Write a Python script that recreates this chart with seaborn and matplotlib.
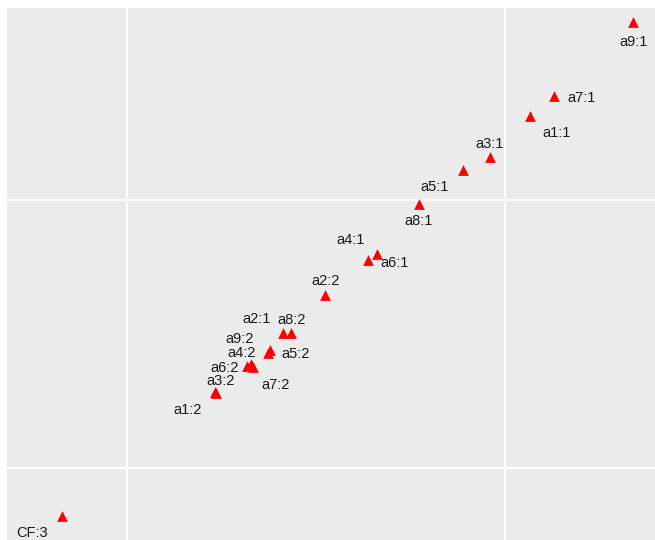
import matplotlib
matplotlib.use("Agg")
import matplotlib.pyplot as plt
import seaborn as sns
import pandas as pd

# Category coordinates on the first two dimensions
labels = ["a9:1", "a7:1", "a1:1", "a3:1", "a5:1", "a8:1", "a6:1", "a4:1",
          "a2:2", "a8:2", "a2:1", "a5:2", "a9:2", "a4:2", "a6:2", "a7:2",
          "a3:2", "a1:2", "CF:3"]
dim1 = [1.339, 1.130, 1.066, 0.960, 0.889, 0.772, 0.661, 0.638,
        0.524, 0.434, 0.413, 0.378, 0.373, 0.328, 0.317, 0.333,
        0.233, 0.235, -0.172]
dim2 = [1.664, 1.388, 1.313, 1.160, 1.112, 0.985, 0.799, 0.776,
        0.646, 0.504, 0.504, 0.440, 0.429, 0.388, 0.381, 0.377,
        0.284, 0.280, -0.179]

# Label nudges (pixels) so overlapping labels stay readable
nudges = {
    "a9:1": (0, -20), "a7:1": (27, -2), "a1:1": (27, -17), "a3:1": (0, 13),
    "a5:1": (-28, -17), "a8:1": (0, -17), "a6:1": (18, -9), "a4:1": (-18, 20),
    "a2:2": (0, 14), "a8:2": (0, 13), "a2:1": (-27, 14), "a5:2": (26, -4),
    "a9:2": (-28, 14), "a4:2": (-9, 11), "a6:2": (-22, -2), "a7:2": (23, -18),
    "a3:2": (5, 11), "a1:2": (-28, -17), "CF:3": (-30, -17),
}

df = pd.DataFrame({"label": labels, "dim1": dim1, "dim2": dim2})

sns.set_theme(style="darkgrid", rc={
    "axes.facecolor": "#EBEBEB",
    "grid.color": "white",
    "grid.linewidth": 1.3,
    "axes.edgecolor": "#EBEBEB",
})
plt.rcParams["font.family"] = ["Liberation Sans", "DejaVu Sans"]

fig = plt.figure(figsize=(6.55, 5.40), dpi=100)
ax = fig.add_axes([7 / 655, 0, 648 / 655, 532 / 540])

sns.scatterplot(data=df, x="dim1", y="dim2", marker="^", color="red",
                s=60, linewidth=0, ax=ax, legend=False, zorder=3)

for lab, x, y in zip(labels, dim1, dim2):
    dx, dy = nudges[lab]
    ax.annotate(lab, (x, y), xytext=(dx, dy), textcoords="offset pixels",
                ha="center", va="center", fontsize=10.5, color="#1a1a1a")

ax.set_xlim(-0.3175, 1.3968)
ax.set_ylim(-0.2687, 1.7164)
ax.set_xticks([0, 1])
ax.set_yticks([0, 1])
ax.tick_params(length=0, labelbottom=False, labelleft=False)
ax.set_xlabel("")
ax.set_ylabel("")
for sp in ax.spines.values():
    sp.set_visible(False)

fig.savefig("out.png", dpi=100, facecolor="white")
